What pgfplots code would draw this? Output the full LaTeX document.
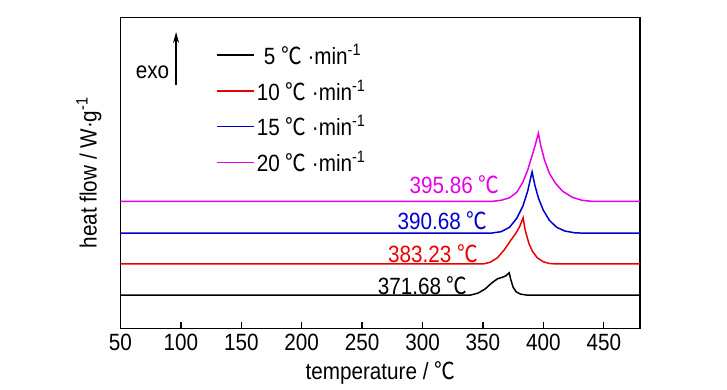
\documentclass[border=0pt]{standalone}
\usepackage{fontspec}
\setmainfont{Liberation Sans}[FakeStretch=0.88]
\newfontfamily\cjk{Noto Sans CJK SC}[FakeStretch=0.88]
\usepackage{pgfplots}
\pgfplotsset{compat=1.18}
\usetikzlibrary{arrows.meta}
\newcommand{\dC}{{\cjk ℃}}
\definecolor{cmag}{RGB}{230,0,230}
\definecolor{cblue}{RGB}{0,0,210}
\definecolor{cred}{RGB}{235,0,0}
\begin{document}
\begin{tikzpicture}[font=\fontsize{23.5bp}{28bp}\selectfont]
\begin{axis}[
  scale only axis,
  width=519.5bp, height=311bp,
  xmin=50, xmax=480, ymin=0, ymax=311,
  xtick={50,100,...,450},
  ytick=\empty,
  xtick pos=bottom,
  tick align=inside,
  major tick length=6bp,
  axis line style={line width=1.5bp},
  every tick/.style={line width=1.3bp, black},
  /pgf/number format/assume math mode=true,
  xticklabel style={inner sep=0pt, yshift=-6bp},
  xlabel={temperature / \dC},
  xlabel style={at={(axis description cs:0.5,0)}, anchor=center, yshift=-44.7bp},
  ylabel={heat flow / W\textperiodcentered g\textsuperscript{-1}},
  ylabel style={at={(axis description cs:0,0.5)}, anchor=center, yshift=31.5bp},
  legend cell align=left,
  legend image code/.code={\draw[#1, line width=1.6bp] (0bp,0bp) -- (37bp,0bp);},
  legend style={draw=none, fill=none, at={(axis description cs:0.1838,0.921)}, anchor=north west,
    row sep=10bp, column sep=0bp, inner sep=0pt, nodes={inner sep=2bp}},
]
\addplot[black, line width=1.5bp] coordinates {(50,33.3) (340,33.3) (346,35.2) (352,39.5) (357,45) (362,49.5) (366,51) (369,52.5) (371.68,55.5) (373,49) (375,41) (377.5,36.5) (381,34.2) (386,33.3) (480,33.3)};
\addlegendentry{\hspace{0.3em}5 \dC\ \textperiodcentered min\textsuperscript{-1}}
\addplot[cred, line width=1.5bp] coordinates {(50,64.3) (350,64.3) (356,66) (362,70.5) (368,79) (373,88) (377,94.5) (380.5,102) (383.23,110.5) (385,98) (388,85) (391,77) (395,70.5) (400,66.5) (405,64.8) (411,64.3) (480,64.3)};
\addlegendentry{10 \dC\ \textperiodcentered min\textsuperscript{-1}}
\addplot[cblue, line width=1.5bp] coordinates {(50,95.2) (357,95.2) (365,96.6) (372,101) (378,110) (383,122) (387,137) (390.68,156.5) (393,143) (396,130) (400,118) (405,108) (411,101) (418,97.2) (426,95.5) (432,95.2) (480,95.2)};
\addlegendentry{15 \dC\ \textperiodcentered min\textsuperscript{-1}}
\addplot[cmag, line width=1.5bp] coordinates {(50,127) (358,127) (365,128) (372,130.5) (378,136) (383,146) (387,158) (390,170) (393,182) (395.86,195) (398,182) (401,168) (405,155) (410,145) (416,137) (424,131) (432,128) (440,127) (480,127)};
\addlegendentry{20 \dC\ \textperiodcentered min\textsuperscript{-1}}
\node[anchor=base, text=cmag] at (axis cs:326.5,134.8) {395.86 \dC};
\node[anchor=base, text=cblue] at (axis cs:316.5,98.6) {390.68 \dC};
\node[anchor=base, text=cred] at (axis cs:308.7,66.2) {383.23 \dC};
\node[anchor=base, text=black] at (axis cs:300.2,34.3) {371.68 \dC};
\draw[line width=1.4bp, -{Stealth[length=11bp, width=6bp]}] (axis cs:96,243.3) -- (axis cs:96,296.3);
\node[anchor=east, inner sep=0pt] at (axis cs:90.5,256.3) {exo};
\end{axis}
\pgfresetboundingbox
\path (current axis.south west) ++(-120.5bp,-61.7bp) rectangle ++(727bp,390bp);
\end{tikzpicture}
\end{document}
